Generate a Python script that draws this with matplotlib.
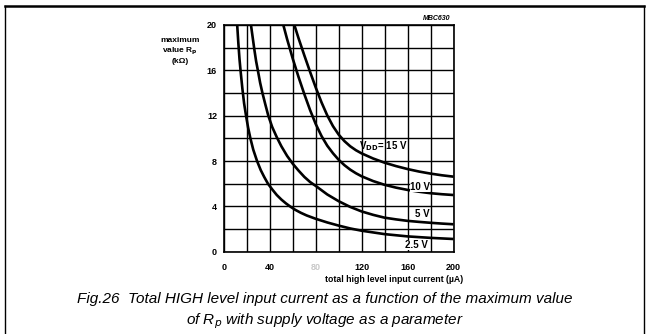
import matplotlib
matplotlib.use("Agg")
import matplotlib.pyplot as plt
from matplotlib.lines import Line2D

plt.rcParams['font.family'] = ['Liberation Sans', 'DejaVu Sans']

# ---- data ----
i_15 = [61.3, 65, 70, 75, 80, 85, 90, 95, 100, 105, 110, 115, 120, 130, 140, 150, 160, 170, 180, 190, 200]
r_15 = [20, 18.82, 17.32, 15.87, 14.47, 13.17, 12.02, 11.07, 10.32, 9.75, 9.30, 8.95, 8.67, 8.22, 7.85, 7.55, 7.29, 7.07, 6.89, 6.74, 6.62]

i_10 = [51.7, 55, 60, 65, 70, 75, 80, 85, 90, 95, 100, 105, 110, 115, 120, 130, 140, 150, 160, 170, 180, 190, 200]
r_10 = [20, 18.75, 17.0, 15.4, 13.9, 12.5, 11.25, 10.2, 9.35, 8.68, 8.1, 7.63, 7.24, 6.92, 6.65, 6.23, 5.9, 5.65, 5.45, 5.29, 5.16, 5.07, 5.0]

i_5 = [23.5, 25, 26.5, 28, 29.5, 31.5, 33.5, 36, 38.6, 42, 46, 50, 55, 60, 65, 70, 75, 80, 90, 100, 110, 120, 130, 140, 150, 160, 170, 180, 190, 200]
r_5 = [20, 18.9, 17.8, 16.8, 16, 14.9, 14, 13, 12, 11.0, 10.1, 9.3, 8.45, 7.75, 7.15, 6.6, 6.15, 5.8, 5.05, 4.45, 3.95, 3.55, 3.25, 3.0, 2.85, 2.72, 2.63, 2.55, 2.48, 2.42]

i_25 = [11.5, 12.5, 13.5, 14.5, 16, 17.5, 19.2, 21, 23, 25.5, 28.8, 32, 35, 38.3, 42, 46, 50, 54, 57.5, 62, 67, 72, 80, 90, 100, 110, 120, 140, 160, 180, 200]
r_25 = [20, 18.4, 17.0, 15.9, 14.4, 13.1, 12, 10.95, 10, 9.0, 8, 7.2, 6.6, 6, 5.5, 5.0, 4.6, 4.26, 4.0, 3.7, 3.43, 3.2, 2.9, 2.58, 2.3, 2.05, 1.85, 1.55, 1.35, 1.22, 1.12]

x_ticks = [0, 20, 40, 60, 80, 100, 120, 140, 160, 180, 200]
x_tick_labels = ['0', '', '40', '', '80', '', '120', '', '160', '', '200']
y_ticks = [0, 2, 4, 6, 8, 10, 12, 14, 16, 18, 20]
y_tick_labels = ['0', '', '4', '', '8', '', '12', '', '16', '', '20']

W, H = 646, 334
fig = plt.figure(figsize=(W / 100, H / 100), dpi=100)
ax = fig.add_axes([224 / W, 1 - 251.7 / H, (453.5 - 224) / W, (251.7 - 25) / H])

for xs, ys in [(i_15, r_15), (i_10, r_10), (i_5, r_5), (i_25, r_25)]:
    ax.plot(xs, ys, color='black', lw=1.9, solid_capstyle='butt',
            solid_joinstyle='round', zorder=3)

ax.set_xlim(0, 200)
ax.set_ylim(0, 20)
ax.set_xticks(x_ticks)
ax.set_xticklabels(x_tick_labels)
ax.set_yticks(y_ticks)
ax.set_yticklabels(y_tick_labels)
ax.tick_params(length=0, labelsize=6.5)
ax.tick_params(axis='x', pad=8)
ax.tick_params(axis='y', pad=5)
for lab in ax.get_xticklabels() + ax.get_yticklabels():
    lab.set_fontweight('bold')
ax.get_xticklabels()[4].set_color('#c8c8c8')
ax.grid(True, color='black', lw=1.0)
ax.set_axisbelow(True)
for s in ax.spines.values():
    s.set_linewidth(1.2)

# curve labels
bb = dict(facecolor='white', edgecolor='none', pad=0.3)
ax.text(118, 9.3, r'V$_{\mathbf{DD}}$= 15 V', fontsize=7, fontweight='bold',
        ha='left', va='center', zorder=4)
ax.text(179.5, 5.7, '10 V', fontsize=7, fontweight='bold', ha='right', va='center', bbox=bb, zorder=4)
ax.text(179.5, 3.33, '5 V', fontsize=7, fontweight='bold', ha='right', va='center', bbox=bb, zorder=4)
ax.text(178, 0.6, '2.5 V', fontsize=7, fontweight='bold', ha='right', va='center', bbox=bb, zorder=4)

# axis titles
fig.text(180 / W, 1 - 51 / H, 'maximum\nvalue R$_{\\mathbf{p}}$\n(k\u03a9)', fontsize=6,
         fontweight='bold', ha='center', va='center', linespacing=1.25)
fig.text(463 / W, 1 - 279 / H, 'total high level input current (\u00b5A)', fontsize=6.3,
         fontweight='bold', ha='right', va='center')
fig.text(450 / W, 1 - 19 / H, 'MBC630', fontsize=5, fontweight='bold', style='italic',
         ha='right', va='center')

# caption
fig.text(325 / W, 1 - 299 / H,
         'Fig.26  Total HIGH level input current as a function of the maximum value',
         fontsize=11, style='italic', ha='center', va='center')
fig.text(325 / W, 1 - 321 / H, 'of R$_p$ with supply voltage as a parameter',
         fontsize=11, style='italic', ha='center', va='center')

# frame around figure
fig.add_artist(Line2D([5 / W, 644 / W], [1 - 6 / H, 1 - 6 / H], color='black', lw=1.8, transform=fig.transFigure))
fig.add_artist(Line2D([5 / W, 5 / W], [1 - 6 / H, 0], color='black', lw=1.0, transform=fig.transFigure))
fig.add_artist(Line2D([644 / W, 644 / W], [1 - 6 / H, 0], color='black', lw=1.0, transform=fig.transFigure))

fig.savefig('out.png', dpi=100)
